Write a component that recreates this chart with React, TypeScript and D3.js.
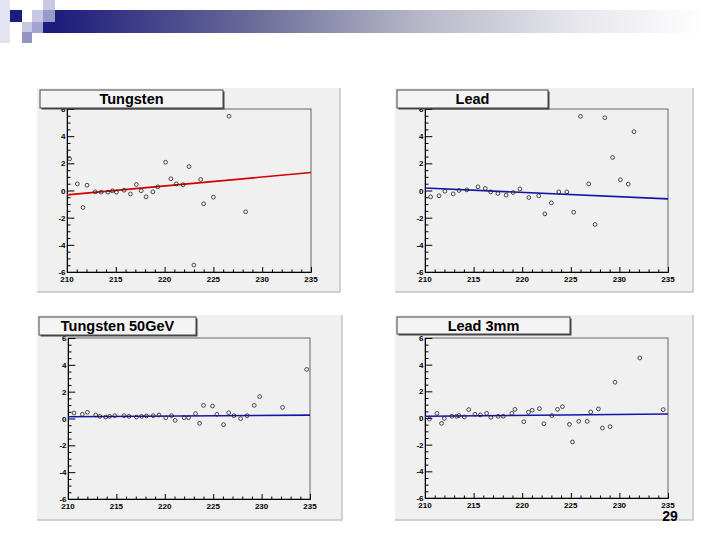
import React, { useRef, useEffect } from "react";
import * as d3 from "d3";

// Residuals vs. channel for each absorber run; fit = line value at 210 and 235
const tungstenX = [210.27, 211.06, 211.64, 212.05, 212.9, 213.5, 214.2, 214.65, 215.06, 215.85, 216.5, 217.1, 217.6, 218.1, 218.8, 219.3, 220.1, 220.64, 221.2, 221.9, 222.5, 223.0, 223.7, 224.0, 225.0, 226.6, 228.3];
const tungstenY = [2.33, 0.49, -1.25, 0.39, -0.1, -0.12, -0.12, -0.02, -0.12, 0.02, -0.25, 0.44, -0.02, -0.47, -0.1, 0.27, 2.08, 0.86, 0.49, 0.42, 1.76, -5.49, 0.81, -0.98, -0.49, 5.47, -1.57];
const tungstenFit = [-0.32, 1.32];

const leadX = [210.58, 211.44, 212.05, 212.9, 213.5, 214.3, 215.45, 216.2, 216.75, 217.5, 218.35, 219.07, 219.76, 220.68, 221.7, 222.33, 223.0, 223.77, 224.6, 225.3, 226.0, 226.85, 227.5, 228.5, 229.3, 230.1, 230.9, 231.5];
const leadY = [-0.47, -0.39, -0.05, -0.25, 0, 0.05, 0.27, 0.15, -0.1, -0.22, -0.34, -0.15, 0.12, -0.52, -0.39, -1.72, -0.91, -0.1, -0.1, -1.6, 5.46, 0.49, -2.5, 5.36, 2.43, 0.79, 0.47, 4.33];
const leadFit = [0.18, -0.62];

const tungsten50X = [210.62, 211.48, 212.0, 212.86, 213.28, 213.9, 214.3, 214.83, 215.8, 216.3, 217.07, 217.6, 218.1, 218.8, 219.4, 220.1, 220.7, 221.07, 222.0, 222.45, 223.17, 223.6, 224.0, 224.93, 225.38, 226.07, 226.6, 227.14, 227.83, 228.5, 229.24, 229.8, 232.17, 234.66];
const tungsten50Y = [0.41, 0.31, 0.46, 0.26, 0.16, 0.11, 0.16, 0.21, 0.21, 0.16, 0.11, 0.16, 0.19, 0.21, 0.26, 0.06, 0.21, -0.14, 0.06, 0.06, 0.36, -0.36, 0.98, 0.93, 0.31, -0.46, 0.43, 0.21, -0.01, 0.21, 0.98, 1.63, 0.83, 3.66];
const tungsten50Fit = [0.13, 0.25];

const lead3X = [210.45, 211.23, 211.7, 211.99, 212.77, 213.25, 213.5, 214.04, 214.5, 215.14, 215.7, 216.34, 216.78, 217.53, 218.05, 218.94, 219.25, 220.17, 220.65, 221.03, 221.78, 222.23, 223.05, 223.63, 224.14, 224.86, 225.17, 225.82, 226.68, 227.05, 227.84, 228.25, 229.04, 229.55, 232.1, 234.5];
const lead3Y = [-0.08, 0.35, -0.4, -0.03, 0.13, 0.13, 0.18, 0.08, 0.63, 0.28, 0.23, 0.35, 0.05, 0.13, 0.13, 0.35, 0.65, -0.28, 0.43, 0.58, 0.7, -0.43, 0.18, 0.65, 0.85, -0.48, -1.8, -0.25, -0.25, 0.45, 0.68, -0.75, -0.65, 2.68, 4.5, 0.63];
const lead3Fit = [0.13, 0.3];

const xDomain = [210, 235];
const yDomain = [-6, 6];
const xTicks = [210, 215, 220, 225, 230, 235];
const yTicks = [-6, -4, -2, 0, 2, 4, 6];

const panels = [
  { title: "Tungsten", xs: tungstenX, ys: tungstenY, fit: tungstenFit, color: "#d00000",
    canvas: [37, 88, 303, 204], frame: [67, 109, 244, 163], box: [40, 90, 183, 18] },
  { title: "Lead", xs: leadX, ys: leadY, fit: leadFit, color: "#1414a8",
    canvas: [395, 88, 298, 204], frame: [425, 109, 243, 163], box: [397, 90, 151, 18] },
  { title: "Tungsten 50GeV", xs: tungsten50X, ys: tungsten50Y, fit: tungsten50Fit, color: "#1414a8",
    canvas: [37, 315, 305, 205], frame: [68, 338, 242, 161], box: [39, 317, 157, 18] },
  { title: "Lead 3mm", xs: lead3X, ys: lead3Y, fit: lead3Fit, color: "#1414a8",
    canvas: [395, 315, 298, 205], frame: [425, 338, 243, 160], box: [397, 317, 173, 17] },
];

const FONT = "'Liberation Sans', Arial, sans-serif";

export default function App() {
  const ref = useRef<SVGSVGElement | null>(null);

  useEffect(() => {
    const svg = d3.select(ref.current);
    svg.selectAll("*").remove();

    // slide header: corner squares + fading bar
    const defs = svg.append("defs");
    const grad = defs.append("linearGradient").attr("id", "hdr").attr("x1", 0).attr("x2", 1);
    [[0, "#1c1c7c"], [0.3, "#6a6a98"], [0.55, "#b4b4c6"], [0.8, "#e6e6ec"], [1, "#ffffff"]].forEach(([o, c]) =>
      grad.append("stop").attr("offset", o as number).attr("stop-color", c as string));
    svg.append("rect").attr("x", 55).attr("y", 10).attr("width", 650).attr("height", 23).attr("fill", "url(#hdr)");

    const squares: [number, number, number, number, string][] = [
      [0, 0, 10, 43, "#e4e4f0"],
      [10, 10, 12, 12, "#1c1c7c"],
      [22, 22, 10, 10, "#c8c8e4"],
      [22, 32, 10, 11, "#9494c4"],
      [32, 10, 11, 12, "#c8c8e4"],
      [32, 22, 11, 11, "#a4a4d0"],
      [43, 0, 12, 10, "#c8c8e4"],
      [43, 10, 12, 12, "#9a9aca"],
      [43, 22, 12, 11, "#1c1c7c"],
    ];
    svg.selectAll("rect.sq").data(squares).enter().append("rect")
      .attr("class", "sq")
      .attr("x", (d) => d[0]).attr("y", (d) => d[1])
      .attr("width", (d) => d[2]).attr("height", (d) => d[3])
      .attr("fill", (d) => d[4]);

    panels.forEach((p) => {
      const [cx, cy, cw, ch] = p.canvas;
      const [fx, fy, fw, fh] = p.frame;
      const [bx, by, bw, bh] = p.box;
      const g = svg.append("g");

      // canvas with a faint shadow on the right/bottom
      g.append("rect").attr("x", cx).attr("y", cy).attr("width", cw).attr("height", ch).attr("fill", "#f0f0f0");
      g.append("path")
        .attr("d", `M${cx + cw},${cy} V${cy + ch} H${cx}`)
        .attr("fill", "none").attr("stroke", "#c4c4c4").attr("stroke-width", 1.5);

      const x = d3.scaleLinear().domain(xDomain).range([fx, fx + fw]);
      const y = d3.scaleLinear().domain(yDomain).range([fy + fh, fy]);

      g.append("rect").attr("x", fx).attr("y", fy).attr("width", fw).attr("height", fh)
        .attr("fill", "#f0f0f0").attr("stroke", "#666").attr("stroke-width", 1);

      // inward ticks
      const yMinor = d3.range(-6, 6.01, 0.5);
      g.append("g").attr("transform", `translate(${fx},0)`)
        .call(d3.axisRight(y).tickValues(yMinor).tickSize(3.5).tickFormat(() => ""))
        .call((a) => a.selectAll("line").filter((d: any) => d % 2 === 0).attr("x2", 7.3));
      const xMinor = d3.range(210, 235.01, 1);
      g.append("g").attr("transform", `translate(0,${fy + fh})`)
        .call(d3.axisTop(x).tickValues(xMinor).tickSize(2.5).tickFormat(() => ""))
        .call((a) => a.selectAll("line").filter((d: any) => d % 5 === 0).attr("y2", -5));
      g.selectAll(".domain").attr("stroke", "#000");
      g.selectAll(".tick line").attr("stroke", "#000");

      // tick labels
      g.append("g").selectAll("text").data(yTicks).enter().append("text")
        .attr("x", fx - 1.5).attr("y", (d) => y(d) + 3)
        .attr("text-anchor", "end")
        .attr("font-family", FONT).attr("font-size", 8).attr("font-weight", 700)
        .text((d) => d);
      g.append("g").selectAll("text").data(xTicks).enter().append("text")
        .attr("x", (d) => x(d)).attr("y", fy + fh + 9.5)
        .attr("text-anchor", "middle")
        .attr("font-family", FONT).attr("font-size", 8).attr("font-weight", 700)
        .text((d) => d);

      // fit line
      g.append("line")
        .attr("x1", x(xDomain[0])).attr("y1", y(p.fit[0]))
        .attr("x2", x(xDomain[1])).attr("y2", y(p.fit[1]))
        .attr("stroke", p.color).attr("stroke-width", 1.6);

      // data points
      g.append("g").selectAll("circle").data(p.xs).enter().append("circle")
        .attr("cx", (d) => x(d)).attr("cy", (_d, i) => y(p.ys[i]))
        .attr("r", 1.9).attr("fill", "none").attr("stroke", "#222").attr("stroke-width", 0.8);

      // title box
      g.append("rect").attr("x", bx + 1.5).attr("y", by + 1.5).attr("width", bw).attr("height", bh).attr("fill", "#444");
      g.append("rect").attr("x", bx).attr("y", by).attr("width", bw).attr("height", bh)
        .attr("fill", "#f4f4f4").attr("stroke", "#444").attr("stroke-width", 1);
      g.append("text")
        .attr("x", bx + bw / 2).attr("y", by + bh / 2 + 5)
        .attr("text-anchor", "middle")
        .attr("font-family", FONT).attr("font-size", 14.5).attr("font-weight", 700)
        .text(p.title);
    });

    svg.append("text").attr("x", 670).attr("y", 521)
      .attr("text-anchor", "middle")
      .attr("font-family", FONT).attr("font-size", 14).attr("font-weight", 700)
      .text("29");
  }, []);

  return (
    <svg ref={ref} width={720} height={540}
      style={{ position: "absolute", left: 0, top: 0, background: "#fff" }} />
  );
}
